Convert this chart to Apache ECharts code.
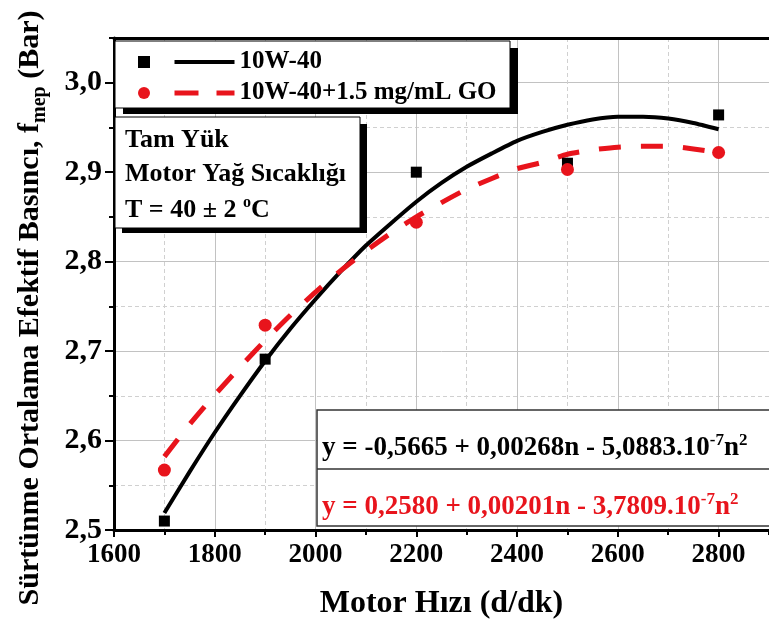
<!DOCTYPE html>
<html>
<head>
<meta charset="utf-8">
<script src="https://cdn.jsdelivr.net/npm/echarts@6/dist/echarts.min.js"></script>
<style>
  html, body { margin: 0; padding: 0; background: #fff; }
  #chart { width: 769px; height: 630px; }
</style>
</head>
<body>
<div id="chart"></div>
<script>
// Measured friction mean effective pressure (bar) at each engine speed (rpm)
const speeds = [1700, 1900, 2200, 2500, 2800];
const baseOil = [2.510, 2.691, 2.900, 2.910, 2.964];
const goOil = [2.567, 2.729, 2.844, 2.903, 2.922];

// Second-order fit curves, sampled every 50 rpm
const fitSpeeds = [1700, 1750, 1800, 1850, 1900, 1950, 2000, 2050, 2100, 2150, 2200, 2250,
                   2300, 2350, 2400, 2450, 2500, 2550, 2600, 2650, 2700, 2750, 2800];
const baseFit = [2.519, 2.565, 2.609, 2.650, 2.689, 2.725, 2.758, 2.789, 2.818, 2.843, 2.867, 2.888,
                 2.906, 2.921, 2.935, 2.945, 2.953, 2.959, 2.962, 2.962, 2.960, 2.955, 2.948];
const goFit = [2.582, 2.618, 2.651, 2.682, 2.712, 2.740, 2.766, 2.790, 2.812, 2.832, 2.850, 2.866,
               2.881, 2.893, 2.904, 2.911, 2.920, 2.925, 2.928, 2.929, 2.929, 2.926, 2.922];

// Axis ticks
const xMajorTicks = [1600, 1800, 2000, 2200, 2400, 2600, 2800];
const xMinorTicks = [1700, 1900, 2100, 2300, 2500, 2700, 2900];
const yMajorTicks = [2.5, 2.6, 2.7, 2.8, 2.9, 3.0];
const yMinorTicks = [2.55, 2.65, 2.75, 2.85, 2.95, 3.05];

// Text
const seriesNames = ['10W-40', '10W-40+1.5 mg/mL GO'];
const pointNames = ['10W-40 ölçüm', '10W-40+1.5 mg/mL GO ölçüm'];
const infoLines = ['Tam Yük', 'Motor Yağ Sıcaklığı'];
const baseEq = '{e|y = -0,5665 + 0,00268n - 5,0883.10}{p|-7}{e|n}{p|2}';
const goEq = '{e|y = 0,2580 + 0,00201n - 3,7809.10}{p|-7}{e|n}{p|2}';

const FONT = '"Liberation Serif", "Times New Roman", serif';
const RED = '#e8141c';

function pairs(xs, ys) { return xs.map((x, i) => [x, ys[i]]); }

const chart = echarts.init(document.getElementById('chart'), null, { renderer: 'canvas' });

const boldText = (size, color) => ({ fontSize: size, fontWeight: 'bold', fontFamily: FONT, color: color || '#000' });
const eqRich = color => ({
  e: { fill: color, fontSize: 27, fontWeight: 'bold', fontFamily: FONT, lineHeight: 32 },
  p: { fill: color, fontSize: 17, fontWeight: 'bold', fontFamily: FONT, lineHeight: 18, verticalAlign: 'top' }
});

const option = {
  backgroundColor: '#fff',
  animation: false,
  grid: { left: 114, top: 38, width: 660, height: 492, containLabel: false },
  xAxis: [
    {
      type: 'value', min: 1600, max: 2900, position: 'bottom',
      axisLine: { show: true, onZero: false, lineStyle: { color: '#000', width: 3 } },
      axisTick: { show: true, customValues: xMajorTicks, length: 7, lineStyle: { color: '#000', width: 2 } },
      axisLabel: Object.assign({ customValues: xMajorTicks, margin: 12, formatter: v => String(v) }, boldText(27)),
      splitLine: { show: true, lineStyle: { color: '#c2c2c2', width: 1 } },
      name: 'Motor Hızı (d/dk)', nameLocation: 'middle', nameGap: 58,
      nameTextStyle: boldText(32)
    },
    {
      type: 'value', min: 1600, max: 2900, position: 'bottom',
      axisLine: { show: false, onZero: false },
      axisTick: { show: true, customValues: xMinorTicks, length: 5, lineStyle: { color: '#000', width: 2 } },
      axisLabel: { show: false },
      splitLine: { show: true, lineStyle: { color: '#d0d0d0', width: 1, type: [4, 3] } }
    },
    {
      type: 'value', min: 1600, max: 2900, position: 'top',
      axisLine: { show: true, onZero: false, lineStyle: { color: '#000', width: 3 } },
      axisTick: { show: false }, axisLabel: { show: false }, splitLine: { show: false }
    }
  ],
  yAxis: [
    {
      type: 'value', min: 2.5, max: 3.05, position: 'left',
      axisLine: { show: true, onZero: false, lineStyle: { color: '#000', width: 3 } },
      axisTick: { show: true, customValues: yMajorTicks, length: 9, lineStyle: { color: '#000', width: 2 } },
      axisLabel: Object.assign({
        customValues: yMajorTicks, margin: 12,
        formatter: v => v.toFixed(1).replace('.', ',')
      }, boldText(30)),
      splitLine: { show: true, lineStyle: { color: '#c2c2c2', width: 1 } }
    },
    {
      type: 'value', min: 2.5, max: 3.05, position: 'left',
      axisLine: { show: false, onZero: false },
      axisTick: { show: true, customValues: yMinorTicks, length: 5, lineStyle: { color: '#000', width: 2 } },
      axisLabel: { show: false },
      splitLine: { show: true, lineStyle: { color: '#d0d0d0', width: 1, type: [4, 3] } }
    }
  ],
  legend: [
    {
      data: pointNames, orient: 'vertical', left: 138, top: 48, padding: 0,
      itemWidth: 12, itemHeight: 12, itemGap: 3, selectedMode: false, z: 20,
      itemStyle: { opacity: 1 },
      formatter: () => ' ',
      textStyle: { fontSize: 25, lineHeight: 28, fontFamily: FONT }
    },
    {
      data: [
        { name: seriesNames[0], lineStyle: { width: 4, type: 'solid' } },
        { name: seriesNames[1], lineStyle: { width: 5, type: [24, 18] } }
      ],
      orient: 'vertical', left: 172, top: 48, padding: 0,
      itemWidth: 60, itemHeight: 14, itemGap: 3, selectedMode: false, z: 20,
      itemStyle: { opacity: 0 },
      textStyle: Object.assign({ lineHeight: 28 }, boldText(25))
    }
  ],
  graphic: [
    // legend frame with drop shadow
    { type: 'rect', z: 10, shape: { x: 123, y: 48, width: 395, height: 66 }, style: { fill: '#000' } },
    { type: 'rect', z: 11, shape: { x: 115, y: 41, width: 395, height: 67 }, style: { fill: '#fff', stroke: '#000', lineWidth: 1 } },
    // test condition box with drop shadow
    { type: 'rect', z: 10, shape: { x: 122, y: 124, width: 245, height: 109 }, style: { fill: '#000' } },
    { type: 'rect', z: 11, shape: { x: 115, y: 117, width: 245, height: 111 }, style: { fill: '#fff', stroke: '#000', lineWidth: 1 } },
    { type: 'text', z: 12, style: { x: 125, y: 140, text: infoLines[0], fill: '#000', fontSize: 26, fontWeight: 'bold', fontFamily: FONT, verticalAlign: 'middle' } },
    { type: 'text', z: 12, style: { x: 125, y: 174, text: infoLines[1], fill: '#000', fontSize: 26, fontWeight: 'bold', fontFamily: FONT, verticalAlign: 'middle' } },
    { type: 'text', z: 12, style: {
        x: 125, y: 210, verticalAlign: 'middle',
        text: '{t|T = 40 ± 2 }{o|o}{t|C}',
        rich: {
          t: { fill: '#000', fontSize: 26, fontWeight: 'bold', fontFamily: FONT, lineHeight: 30 },
          o: { fill: '#000', fontSize: 16, fontWeight: 'bold', fontFamily: FONT, lineHeight: 17, verticalAlign: 'top' }
        } } },
    // fit equations box
    { type: 'rect', z: 10, shape: { x: 317, y: 410, width: 470, height: 116 }, style: { fill: '#fff', stroke: '#333', lineWidth: 1.5 } },
    { type: 'line', z: 11, shape: { x1: 317, y1: 469, x2: 787, y2: 469 }, style: { stroke: '#333', lineWidth: 1.5 } },
    { type: 'text', z: 12, style: { x: 322, y: 448, verticalAlign: 'middle', text: baseEq, rich: eqRich('#000') } },
    { type: 'text', z: 12, style: { x: 322, y: 507, verticalAlign: 'middle', text: goEq, rich: eqRich(RED) } },
    // y axis title with subscript
    { type: 'text', z: 12, x: 30, y: 308, rotation: Math.PI / 2, style: {
        text: '{a|Sürtünme Ortalama Efektif Basıncı, f}{s|mep}{a| (Bar)}',
        align: 'center', verticalAlign: 'middle',
        rich: {
          a: { fill: '#000', fontSize: 30, fontWeight: 'bold', fontFamily: FONT, lineHeight: 40 },
          s: { fill: '#000', fontSize: 20, fontWeight: 'bold', fontFamily: FONT, lineHeight: 22, verticalAlign: 'bottom' }
        } } }
  ],
  series: [
    {
      name: seriesNames[0], type: 'line', data: pairs(fitSpeeds, baseFit), smooth: 0.2,
      symbol: 'none', color: '#000', lineStyle: { color: '#000', width: 4 }, z: 3
    },
    {
      name: seriesNames[1], type: 'line', data: pairs(fitSpeeds, goFit), smooth: 0.2,
      symbol: 'none', color: RED, lineStyle: { color: RED, width: 5, type: [22, 20] }, z: 4
    },
    {
      name: pointNames[0], type: 'scatter', data: pairs(speeds, baseOil),
      symbol: 'rect', symbolSize: 11, itemStyle: { color: '#000', opacity: 1 }, z: 5
    },
    {
      name: pointNames[1], type: 'scatter', data: pairs(speeds, goOil),
      symbol: 'circle', symbolSize: 13, itemStyle: { color: RED, opacity: 1 }, z: 6
    }
  ]
};

chart.setOption(option);
</script>
</body>
</html>
